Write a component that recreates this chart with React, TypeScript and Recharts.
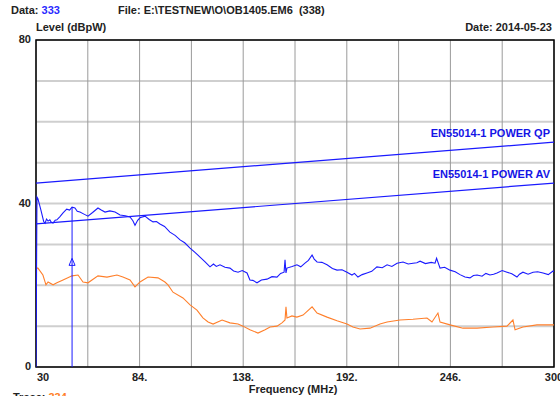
import { LineChart, Line, XAxis, YAxis, CartesianGrid, ReferenceArea, ReferenceLine, ReferenceDot } from 'recharts';

// frequency (MHz), level (dBpW)
const peakTrace: [number, number][] = [
  [30, 0], [30.5, 41.6], [31.0, 41.2], [32.5, 38.5], [34.0, 35.6], [34.7, 35.2], [35.5, 36.2], [36.3, 35.7],
  [37.2, 36.0], [38.0, 35.4], [38.9, 35.2], [40.0, 35.9], [40.9, 36.0], [42.5, 36.8], [44.1, 37.7],
  [46.0, 38.6], [47.5, 38.4], [48.8, 39.1], [50.3, 38.9], [51.5, 38.1], [52.9, 37.9], [55.0, 37.4],
  [57.1, 36.9], [59.5, 37.8], [62.3, 38.9], [64.0, 38.4], [66.0, 37.9], [68.5, 38.2], [71.2, 37.9],
  [73.8, 37.2], [76.5, 37.0], [79.0, 36.7], [80.5, 35.8], [81.6, 34.7], [83.0, 35.9], [84.2, 36.5],
  [86.8, 36.9], [89.0, 36.1], [91.0, 35.5], [92.8, 35.6], [94.6, 35.0], [97.0, 34.4], [99.8, 33.0],
  [102.5, 32.2], [105.1, 31.1], [107.5, 30.4], [110.3, 29.1], [113.0, 28.0], [115.5, 26.9],
  [118.0, 25.8], [120.7, 24.5], [122.5, 25.2], [124.0, 24.6], [125.9, 25.0], [128.5, 24.4],
  [131.1, 24.2], [133.0, 23.5], [135.3, 23.2], [137.5, 23.6], [140.0, 23.0], [141.5, 21.3],
  [143.0, 21.2], [145.2, 20.6], [147.5, 21.3], [150.4, 21.5], [153.0, 22.1], [155.6, 22.0],
  [157.5, 22.9], [159.3, 23.2], [159.8, 26.2], [160.3, 23.0], [160.8, 24.2], [163.5, 24.6],
  [166.0, 25.0], [168.0, 24.5], [170.2, 25.4], [172.0, 26.1], [173.9, 27.4], [175.0, 26.4],
  [176.5, 25.7], [179.0, 25.6], [181.7, 25.0], [184.5, 24.1], [186.9, 23.7], [189.5, 23.8],
  [192.1, 23.2], [194.7, 22.5], [196.0, 22.9], [197.8, 22.0], [200.0, 22.6], [202.5, 23.0],
  [205.0, 23.4], [207.7, 24.5], [210.5, 24.3], [213.0, 25.0], [215.5, 24.6], [218.2, 25.4],
  [221.3, 25.7], [224.0, 25.2], [226.5, 25.4], [228.5, 25.5], [230.2, 25.9], [233.0, 25.3],
  [236.0, 25.6], [238.0, 25.4], [238.8, 26.6], [240.6, 24.2], [243.0, 24.4], [245.8, 23.7],
  [248.5, 23.3], [251.0, 22.6], [253.6, 22.0], [256.2, 21.8], [258.0, 22.4], [259.9, 22.5],
  [262.5, 22.2], [264.5, 22.9], [266.6, 22.5], [268.5, 22.7], [270.3, 23.0], [273.0, 23.6],
  [275.5, 23.2], [278.0, 22.8], [280.7, 22.0], [282.0, 22.7], [283.8, 23.2], [286.5, 22.7],
  [289.1, 23.2], [291.5, 23.3], [294.3, 23.0], [297.0, 22.6], [299.5, 23.5], [300, 23.3],
];

const avgTrace: [number, number][] = [
  [30, 24.2], [31.0, 24.2], [33.6, 22.5], [35.2, 20.1], [36.3, 20.8], [38.9, 20.1], [40.9, 20.6],
  [44.1, 21.3], [48.8, 22.3], [51.9, 22.5], [54.5, 20.8], [57.1, 20.6], [62.3, 22.3], [67.0, 22.0],
  [72.2, 22.5], [75.3, 22.0], [79.0, 21.3], [81.6, 19.6], [84.2, 20.8], [88.4, 22.0], [93.6, 21.8],
  [97.2, 20.8], [98.8, 20.1], [101.4, 18.3], [106.6, 16.9], [110.3, 15.2], [113.9, 13.9],
  [117.0, 12.0], [119.7, 11.0], [122.3, 10.5], [127.0, 11.5], [131.1, 10.8], [135.3, 10.5],
  [137.9, 10.0], [141.5, 9.1], [145.7, 8.3], [149.4, 9.1], [152.0, 9.8], [155.6, 10.0],
  [158.2, 10.8], [159.8, 11.5], [160.3, 14.7], [160.8, 12.0], [163.4, 12.5], [166.0, 12.2],
  [169.2, 12.7], [173.9, 14.7], [176.5, 13.2], [181.7, 12.2], [186.9, 11.3], [192.1, 10.5],
  [195.2, 9.8], [198.9, 9.3], [204.1, 9.5], [209.3, 10.5], [213.0, 11.0], [219.7, 11.5],
  [226.5, 11.7], [233.8, 12.0], [236.4, 11.0], [239.5, 13.2], [240.6, 11.0], [245.8, 10.3],
  [252.6, 9.5], [259.9, 9.5], [268.2, 9.8], [275.5, 10.0], [278.6, 11.5], [279.7, 9.1],
  [283.8, 9.8], [291.1, 10.3], [300, 10.3],
];

// EN55014-1 power limits, linear in frequency
const limitQP: [number, number][] = [[30, 45], [300, 55]];
const limitAV: [number, number][] = [[30, 35], [300, 45]];

const markerFreq = 48.8;
const markerLevel = 39.1;
const markerDelta = 25.6;

const freqTicks = [30, 57, 84, 111, 138, 165, 192, 219, 246, 273, 300];
const freqLabels = [30, 84, 138, 192, 246, 300];
const levelTicks = [0, 10, 20, 30, 40, 50, 60, 70, 80];
const levelLabels = [0, 40, 80];

const toRows = (pts: [number, number][]) => pts.map(([f, v]) => ({ f, v }));

const FONT = '"Liberation Sans", Arial, sans-serif';
const BLUE = '#1a1aff';
const ORANGE = '#ff7f2a';

function FreqTick({ x, y, payload }: any) {
  const v = payload.value;
  if (!freqLabels.includes(v)) return null;
  const text = v === 30 || v === 300 ? String(v) : `${v}.`;
  return (
    <text x={v === 30 ? x + 1 : x} y={y + 12} textAnchor={v === 30 ? 'start' : 'middle'}
      fontFamily={FONT} fontWeight="bold" fontSize={11} fill="#222">
      {text}
    </text>
  );
}

function LevelTick({ x, y, payload }: any) {
  const v = payload.value;
  if (!levelLabels.includes(v)) return null;
  return (
    <text x={x - 3} y={y + 3} textAnchor="end" fontFamily={FONT} fontWeight="bold" fontSize={11} fill="#222">
      {v}
    </text>
  );
}

function limitLabel(name: string) {
  return (props: any) => {
    if (props.index !== 1) return null;
    return (
      <text x={props.x - 4} y={props.y - 5} textAnchor="end" fontFamily={FONT} fontWeight="bold"
        fontSize={11} fill="#1414e6">
        {name}
      </text>
    );
  };
}

function DeltaShape({ cx, cy }: any) {
  return <path d={`M${cx},${cy - 4} L${cx + 3},${cy + 3} L${cx - 3},${cy + 3} Z`} fill="none" stroke={BLUE} strokeWidth={1} />;
}

const txt = (extra: React.CSSProperties): React.CSSProperties => ({
  position: 'absolute', fontFamily: FONT, fontWeight: 'bold', fontSize: 11, lineHeight: '13px',
  color: '#222', whiteSpace: 'pre', ...extra,
});

export default function App() {
  return (
    <div style={{ position: 'absolute', left: 0, top: 0, width: 560, height: 396, overflow: 'hidden', background: '#fff' }}>
      <LineChart width={560} height={396} margin={{ top: 40, right: 6, bottom: 0, left: 0 }}>
        <CartesianGrid horizontal={true} vertical={false} stroke="#cfcfcf" strokeWidth={2} />
        <CartesianGrid horizontal={false} vertical={true} stroke="#9a9a9a" strokeWidth={1} />
        <XAxis type="number" dataKey="f" domain={[30, 300]} ticks={freqTicks} interval={0}
          height={29} axisLine={false} tickLine={false} tickSize={0} tick={<FreqTick />} allowDataOverflow />
        <YAxis type="number" dataKey="v" domain={[0, 80]} ticks={levelTicks} interval={0}
          width={36} axisLine={false} tickLine={false} tickSize={0} tick={<LevelTick />} allowDataOverflow />
        <Line data={toRows(limitQP)} dataKey="v" stroke={BLUE} strokeWidth={1.2} dot={false}
          isAnimationActive={false} label={limitLabel('EN55014-1 POWER QP')} />
        <Line data={toRows(limitAV)} dataKey="v" stroke={BLUE} strokeWidth={1.2} dot={false}
          isAnimationActive={false} label={limitLabel('EN55014-1 POWER AV')} />
        <Line data={toRows(avgTrace)} dataKey="v" stroke={ORANGE} strokeWidth={1.1} dot={false}
          isAnimationActive={false} />
        <Line data={toRows(peakTrace)} dataKey="v" stroke={BLUE} strokeWidth={1.1} dot={false}
          isAnimationActive={false} />
        <ReferenceLine segment={[{ x: markerFreq, y: 0 }, { x: markerFreq, y: markerLevel }]} stroke={BLUE} strokeWidth={1} />
        <ReferenceDot x={markerFreq} y={markerDelta} r={3} shape={<DeltaShape />} />
        <ReferenceArea x1={30} x2={300} y1={0} y2={80} fill="none" stroke="#000" strokeWidth={1.5} />
      </LineChart>
      <div style={txt({ left: 11, top: 4 })}>Data: <span style={{ color: '#2a2aff' }}>333</span></div>
      <div style={txt({ left: 118, top: 4 })}>{'File: E:\\TESTNEW\\O\\OB1405.EM6  (338)'}</div>
      <div style={txt({ left: 36, top: 21 })}>Level (dBpW)</div>
      <div style={txt({ right: 8, top: 21 })}>Date: 2014-05-23</div>
      <div style={txt({ left: 243, top: 383, width: 100, textAlign: 'center' })}>Frequency (MHz)</div>
      <div style={txt({ left: 13, top: 391 })}>Trace: <span style={{ color: ORANGE }}>334</span></div>
    </div>
  );
}
